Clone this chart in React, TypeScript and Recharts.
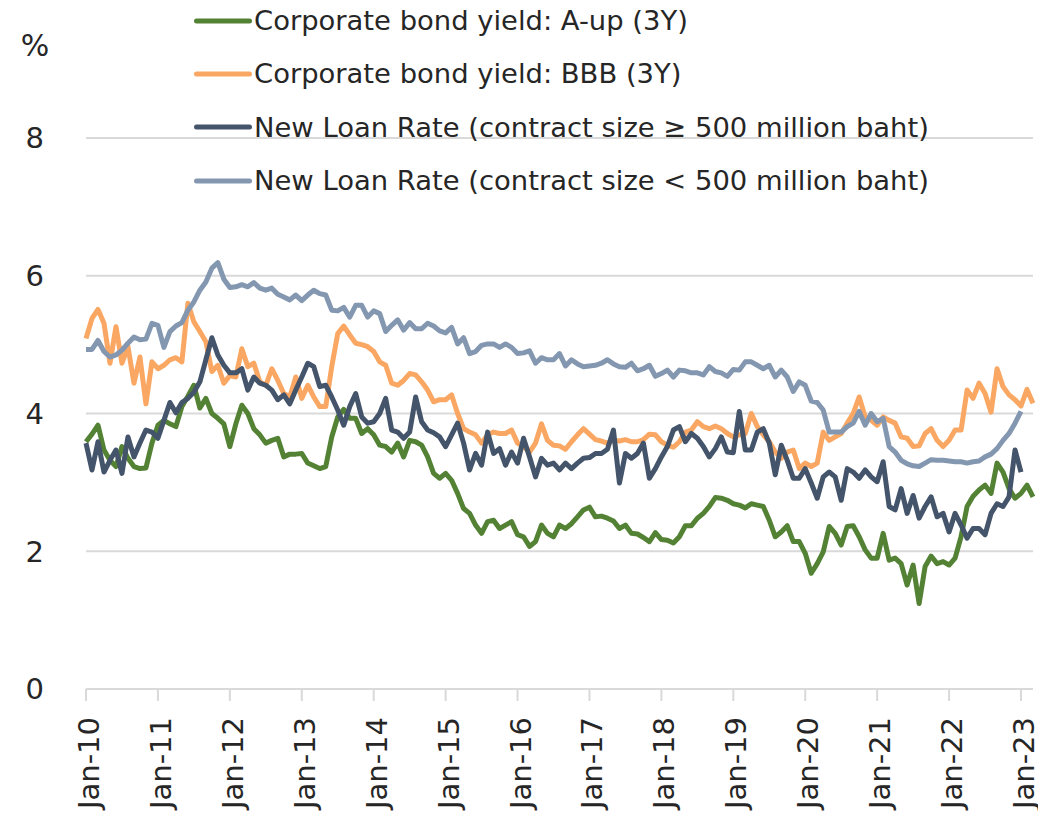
import { LineChart, Line, XAxis, YAxis, CartesianGrid, Legend, Label } from 'recharts';

const MONTH_NAMES = ['Jan', 'Feb', 'Mar', 'Apr', 'May', 'Jun', 'Jul', 'Aug', 'Sep', 'Oct', 'Nov', 'Dec'];
const FIRST_YEAR = 10;
const MONTH_COUNT = 159; // Jan-10 .. Mar-23

const months = Array.from(
    { length: MONTH_COUNT },
    (_, i) => `${MONTH_NAMES[i % 12]}-${FIRST_YEAR + Math.floor(i / 12)}`
);

const yTicks = [0, 2, 4, 6, 8];

// Corporate bond yield: A-up (3Y), %
const aUpYield = [
    3.59, 3.7, 3.83, 3.47, 3.32, 3.23, 3.52, 3.35, 3.23, 3.2, 3.21, 3.57,
    3.83, 3.9, 3.85, 3.81, 4.1, 4.25, 4.41, 4.08, 4.22, 4.0, 3.93, 3.85,
    3.52, 3.85, 4.12, 4.0, 3.78, 3.69, 3.57, 3.61, 3.64, 3.37, 3.41, 3.41,
    3.42, 3.28, 3.24, 3.2, 3.23, 3.66, 3.95, 4.06, 3.93, 3.93, 3.71, 3.78,
    3.69, 3.54, 3.52, 3.44, 3.57, 3.37, 3.61, 3.59, 3.54, 3.37, 3.13, 3.06,
    3.13, 3.03, 2.84, 2.62, 2.55, 2.38, 2.26, 2.43, 2.45, 2.33, 2.38, 2.43,
    2.24, 2.21, 2.07, 2.14, 2.38, 2.26, 2.21, 2.38, 2.33, 2.4, 2.5, 2.6,
    2.64, 2.5, 2.51, 2.48, 2.44, 2.33, 2.38, 2.26, 2.25, 2.2, 2.14, 2.27,
    2.17, 2.16, 2.12, 2.21, 2.37, 2.37, 2.48, 2.55, 2.65, 2.78, 2.77, 2.74,
    2.69, 2.67, 2.63, 2.69, 2.67, 2.65, 2.45, 2.21, 2.28, 2.37, 2.14, 2.14,
    1.97, 1.68, 1.82, 1.99, 2.36, 2.26, 2.09, 2.36, 2.37, 2.21, 2.02, 1.9,
    1.9, 2.26, 1.87, 1.9, 1.82, 1.51, 1.8, 1.24, 1.78, 1.93, 1.82, 1.85,
    1.8, 1.9, 2.21, 2.65, 2.8, 2.89, 2.96, 2.84, 3.28, 3.15, 2.91, 2.77,
    2.84, 2.96, 2.79,
];

// Corporate bond yield: BBB (3Y), %
const bbbYield = [
    5.09, 5.38, 5.51, 5.31, 4.73, 5.26, 4.73, 4.97, 4.44, 4.82, 4.14, 4.75,
    4.65, 4.7, 4.78, 4.81, 4.75, 5.6, 5.33, 5.19, 5.04, 4.61, 4.7, 4.44,
    4.55, 4.53, 4.94, 4.68, 4.73, 4.46, 4.41, 4.65, 4.48, 4.29, 4.24, 4.53,
    4.22, 4.41, 4.24, 4.1, 4.1, 4.68, 5.16, 5.27, 5.14, 5.02, 5.0, 4.97,
    4.9, 4.75, 4.7, 4.44, 4.41, 4.48, 4.58, 4.56, 4.46, 4.34, 4.17, 4.2,
    4.2, 4.27, 4.0, 3.78, 3.73, 3.69, 3.57, 3.69, 3.73, 3.71, 3.71, 3.76,
    3.57, 3.52, 3.44, 3.57, 3.85, 3.61, 3.54, 3.53, 3.48, 3.59, 3.69, 3.78,
    3.7, 3.62, 3.6, 3.57, 3.61, 3.6, 3.62, 3.59, 3.59, 3.62, 3.7, 3.69,
    3.59, 3.54, 3.51, 3.59, 3.73, 3.76, 3.88, 3.81, 3.78, 3.82, 3.78, 3.71,
    3.66, 3.69, 3.71, 4.0, 3.81, 3.69, 3.59, 3.44, 3.35, 3.44, 3.47, 3.2,
    3.28, 3.23, 3.28, 3.73, 3.61, 3.66, 3.71, 3.86, 4.0, 4.24, 3.95, 3.9,
    3.83, 3.95, 3.9, 3.86, 3.66, 3.64, 3.52, 3.53, 3.71, 3.78, 3.61, 3.52,
    3.61, 3.76, 3.76, 4.34, 4.22, 4.44, 4.29, 4.02, 4.65, 4.39, 4.27, 4.2,
    4.11, 4.35, 4.15,
];

// New Loan Rate (contract size >= 500 million baht), %
const loanRateLarge = [
    3.57, 3.18, 3.59, 3.15, 3.32, 3.47, 3.13, 3.66, 3.37, 3.57, 3.76, 3.73,
    3.64, 3.9, 4.16, 4.01, 4.16, 4.22, 4.31, 4.46, 4.78, 5.1, 4.85, 4.7,
    4.59, 4.59, 4.65, 4.34, 4.53, 4.44, 4.41, 4.34, 4.2, 4.27, 4.14, 4.34,
    4.53, 4.73, 4.68, 4.39, 4.41, 4.24, 4.05, 3.83, 4.1, 4.29, 3.95, 3.86,
    3.88, 4.0, 4.22, 3.76, 3.73, 3.64, 3.73, 4.24, 3.88, 3.76, 3.72, 3.66,
    3.52, 3.69, 3.86, 3.57, 3.18, 3.42, 3.25, 3.73, 3.42, 3.49, 3.25, 3.44,
    3.28, 3.64, 3.37, 3.08, 3.35, 3.25, 3.28, 3.18, 3.28, 3.2, 3.28, 3.35,
    3.36, 3.42, 3.42, 3.48, 3.76, 2.99, 3.42, 3.35, 3.42, 3.57, 3.06, 3.2,
    3.37, 3.52, 3.76, 3.81, 3.59, 3.71, 3.64, 3.52, 3.37, 3.49, 3.66, 3.44,
    3.43, 4.03, 3.47, 3.47, 3.73, 3.78, 3.57, 3.11, 3.54, 3.32, 3.06, 3.06,
    3.2, 2.99, 2.77, 3.08, 3.15, 3.08, 2.74, 3.2, 3.15, 3.06, 3.18, 3.08,
    3.01, 3.3, 2.65, 2.6, 2.91, 2.55, 2.81, 2.48, 2.65, 2.79, 2.5, 2.55,
    2.28, 2.55, 2.38, 2.19, 2.33, 2.33, 2.24, 2.55, 2.69, 2.65, 2.79, 3.47,
    3.15,
];

// New Loan Rate (contract size < 500 million baht), %
const loanRateSmall = [
    4.93, 4.93, 5.06, 4.9, 4.82, 4.85, 4.92, 5.02, 5.11, 5.07, 5.08, 5.31,
    5.28, 4.96, 5.19, 5.27, 5.32, 5.5, 5.62, 5.79, 5.91, 6.11, 6.19, 5.95,
    5.83, 5.84, 5.87, 5.84, 5.9, 5.82, 5.79, 5.82, 5.73, 5.69, 5.65, 5.72,
    5.64, 5.72, 5.79, 5.74, 5.72, 5.5, 5.49, 5.54, 5.4, 5.57, 5.57, 5.4,
    5.49, 5.45, 5.19, 5.28, 5.36, 5.21, 5.32, 5.23, 5.23, 5.31, 5.27, 5.2,
    5.17, 5.25, 5.01, 5.1, 4.87, 4.9, 4.99, 5.01, 5.01, 4.96, 5.01, 4.96,
    4.87, 4.88, 4.91, 4.73, 4.81, 4.78, 4.78, 4.87, 4.69, 4.78, 4.72, 4.68,
    4.69, 4.7, 4.73, 4.78, 4.72, 4.68, 4.67, 4.73, 4.62, 4.65, 4.7, 4.54,
    4.58, 4.63, 4.53, 4.63, 4.62, 4.59, 4.59, 4.56, 4.68, 4.61, 4.59, 4.54,
    4.64, 4.63, 4.75, 4.75, 4.7, 4.65, 4.7, 4.53, 4.63, 4.53, 4.32, 4.46,
    4.41, 4.18, 4.16, 4.05, 3.73, 3.73, 3.73, 3.81, 3.86, 4.03, 3.83, 4.0,
    3.88, 3.93, 3.52, 3.44, 3.32, 3.27, 3.24, 3.23, 3.28, 3.33, 3.32, 3.32,
    3.31, 3.3, 3.3, 3.28, 3.3, 3.31, 3.37, 3.41, 3.49, 3.61, 3.71, 3.86,
    4.03,
];

const series = [
    { key: 'aUp', name: 'Corporate bond yield: A-up (3Y)', color: '#548235' },
    { key: 'bbb', name: 'Corporate bond yield: BBB (3Y)', color: '#F9A762' },
    { key: 'large', name: 'New Loan Rate (contract size ≥ 500 million baht)', color: '#44546A' },
    { key: 'small', name: 'New Loan Rate (contract size < 500 million baht)', color: '#8497B0' },
];

const data = months.map((month, i) => ({
    month,
    aUp: aUpYield[i] ?? null,
    bbb: bbbYield[i] ?? null,
    large: loanRateLarge[i] ?? null,
    small: loanRateSmall[i] ?? null,
}));

const FONT = '"DejaVu Sans", Verdana, sans-serif';
const TEXT = '#262626';
const GRID = '#D9D9D9';

function MonthTick({ x, y, payload }: any) {
    return (
        <g transform={`translate(${x},${y})`}>
            <text
                transform="rotate(-90)"
                textAnchor="end"
                dominantBaseline="central"
                dy={3}
                fontFamily={FONT}
                fontSize={29}
                fill={TEXT}
            >
                {payload.value}
            </text>
        </g>
    );
}

function PercentLabel({ viewBox }: any) {
    return (
        <text
            x={viewBox.x + 35}
            y={viewBox.y - 82}
            textAnchor="middle"
            fontFamily={FONT}
            fontSize={30}
            fill={TEXT}
        >
            %
        </text>
    );
}

// legend keeps the series order (recharts would sort it by name)
function LegendList() {
    return (
        <div style={{ fontFamily: FONT, fontSize: 27.4, color: TEXT }}>
            {series.map((s) => (
                <div key={s.key} style={{ display: 'flex', alignItems: 'center', height: 53.3 }}>
                    <svg width={62} height={10} style={{ display: 'block' }}>
                        <line x1={4.5} y1={5} x2={57.5} y2={5} stroke={s.color} strokeWidth={5} strokeLinecap="round" />
                    </svg>
                    <span style={{ whiteSpace: 'nowrap' }}>{s.name}</span>
                </div>
            ))}
        </div>
    );
}

export default function App() {
    return (
        <div style={{ width: 1038, height: 815 }}>
            <style>{'body{margin:0}'}</style>
            <LineChart width={1038} height={815} data={data} margin={{ top: 138, right: 5, left: 0, bottom: 0 }}>
                <CartesianGrid vertical={false} stroke={GRID} strokeWidth={2} />
                <XAxis
                    dataKey="month"
                    interval={11}
                    height={126}
                    tick={<MonthTick />}
                    tickSize={12}
                    tickMargin={16}
                    axisLine={{ stroke: GRID, strokeWidth: 2 }}
                    tickLine={{ stroke: GRID, strokeWidth: 2 }}
                />
                <YAxis
                    width={86}
                    domain={[0, 8]}
                    ticks={yTicks}
                    axisLine={false}
                    tickLine={false}
                    tickSize={0}
                    tickMargin={42}
                    tick={{ fontFamily: FONT, fontSize: 29, fill: TEXT }}
                >
                    <Label content={<PercentLabel />} />
                </YAxis>
                <Legend
                    layout="vertical"
                    align="center"
                    verticalAlign="middle"
                    wrapperStyle={{ top: -6, left: 192, width: 'auto' }}
                    content={<LegendList />}
                />
                {series.map((s) => (
                    <Line
                        key={s.key}
                        type="linear"
                        dataKey={s.key}
                        name={s.name}
                        stroke={s.color}
                        strokeWidth={5}
                        strokeLinejoin="round"
                        dot={false}
                        activeDot={false}
                        isAnimationActive={false}
                    />
                ))}
            </LineChart>
        </div>
    );
}
